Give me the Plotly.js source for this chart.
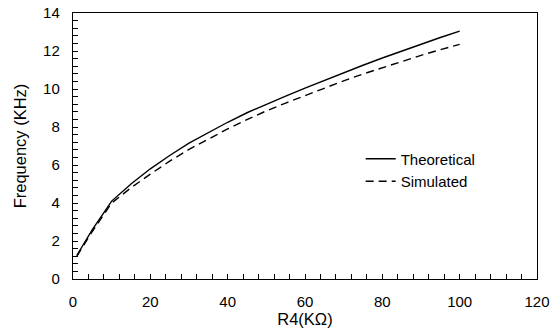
<!DOCTYPE html>
<html>
<head>
<meta charset="utf-8">
<script src="https://cdn.plot.ly/plotly-3.0.1.min.js"></script>
<style>html,body{margin:0;padding:0;background:#fff}#chart{width:553px;height:330px}</style>
</head>
<body>
<div id="chart"></div>
<script>
// R4 values (kΩ)
var r4 = [1, 5, 10, 15, 20, 25, 30, 35, 40, 45, 50, 55, 60, 65, 70, 75, 80, 85, 90, 95, 100];
// Frequency (kHz)
var theoretical = [1.25, 2.6, 4.1, 5.0, 5.8, 6.5, 7.15, 7.72, 8.25, 8.75, 9.2, 9.63, 10.05, 10.46, 10.86, 11.25, 11.63, 12.0, 12.36, 12.71, 13.05];
var simulated   = [1.2, 2.5, 4.0, 4.8, 5.52, 6.2, 6.82, 7.38, 7.9, 8.39, 8.85, 9.26, 9.66, 10.05, 10.43, 10.79, 11.13, 11.46, 11.77, 12.07, 12.35];
var seriesNames = ["Theoretical", "Simulated"];

var font = "Liberation Sans, Arial, sans-serif";

var traces = [
  {x: r4, y: theoretical, name: seriesNames[0], mode: "lines",
   line: {color: "#000", width: 1.4}},
  {x: r4, y: simulated, name: seriesNames[1], mode: "lines",
   line: {color: "#000", width: 1.4, dash: "8px,5px"}}
];

var axisCommon = {
  showgrid: false, zeroline: false,
  showline: true, linecolor: "#000", linewidth: 1.2, mirror: true,
  ticks: "inside", ticklen: 5, tickwidth: 1, tickcolor: "#000",
  tickfont: {family: font, size: 15, color: "#000"}
};

var layout = {
  width: 553, height: 330,
  margin: {l: 73, r: 16, t: 13, b: 51},
  paper_bgcolor: "#fff", plot_bgcolor: "#fff",
  showlegend: true,
  legend: {x: 0.62, y: 0.41, xanchor: "left", yanchor: "middle",
           bgcolor: "rgba(0,0,0,0)", font: {family: font, size: 15, color: "#000"},
           tracegroupgap: 0},
  xaxis: Object.assign({}, axisCommon, {
    range: [0, 120], dtick: 20, tick0: 0,
    minor: {dtick: 4, ticks: "inside", ticklen: 5, tickwidth: 1, tickcolor: "#000"},
    ticklabelstandoff: 9,
    title: {text: "R4(KΩ)", font: {family: font, size: 16.5, color: "#000"}, standoff: 0}
  }),
  yaxis: Object.assign({}, axisCommon, {
    range: [0, 14], dtick: 2, tick0: 0,
    minor: {dtick: 0.4, ticks: "inside", ticklen: 5, tickwidth: 1, tickcolor: "#000"},
    ticklabelstandoff: 9,
    title: {text: "Frequency (KHz)", font: {family: font, size: 16.5, color: "#000"}, standoff: 12}
  })
};

Plotly.newPlot("chart", traces, layout, {displayModeBar: false, staticPlot: true});
</script>
</body>
</html>
